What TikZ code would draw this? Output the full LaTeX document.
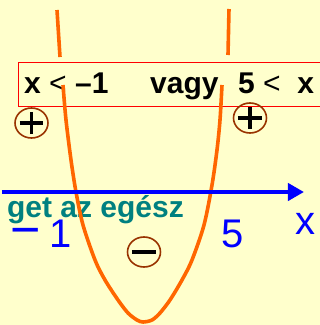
\documentclass[tikz,border=0pt]{standalone}
\usepackage{fontspec}
\setmainfont{Liberation Sans}
\usetikzlibrary{arrows.meta,shapes.geometric}
\definecolor{paper}{HTML}{FFFFCC}
\definecolor{curveorange}{HTML}{FF6600}
\definecolor{signring}{HTML}{993300}
\definecolor{axisblue}{HTML}{0000FF}
\definecolor{noteteal}{HTML}{008080}

\begin{document}
\begin{tikzpicture}[x=1pt, y=-1pt,
  curveline/.style={draw=curveorange, line width=3.6pt},
  condtext/.style={anchor=base west, inner sep=0pt, font=\fontsize{30}{30}\selectfont\bfseries},
  axislabel/.style={anchor=base west, inner sep=0pt, text=axisblue, font=\fontsize{40}{40}\selectfont},
  signmark/.style={ellipse, draw=signring, line width=1.6pt, minimum width=33pt, minimum height=30pt, inner sep=0pt},
  signstroke/.style={line width=3.6pt, black}]
\fill[paper] (0,0) rectangle (320,325);
\useasboundingbox (0,0) rectangle (320,325);

% condition box
\node[draw=red, line width=1.2pt, anchor=north west, minimum width=330pt, minimum height=44pt, inner sep=0pt] (cond) at (18,62) {};
\node[condtext] (left) at (24,93) {x {\mdseries<} –1};
\node[condtext] (vagy) at (150,93) {vagy};
\node[condtext] (right) at (238,93) {5 {\mdseries<}\ \ x};

% teal note behind the axis labels
\node[anchor=base east, inner sep=0pt, text=noteteal, font=\fontsize{30}{30}\selectfont\bfseries] (note) at (184,217) {get az egész};

% axis labels
\node[axislabel] (mone) at (10.5,247) {{\fontsize{52}{52}\selectfont −}\hspace{8pt}1};
\node[axislabel] (five) at (221,247) {5};
\node[axislabel] (xlab) at (295,234) {x};

% parabola
\draw[curveline] (57,10) -- (60,57);
\draw[curveline] (229,9) -- (228,55);
\draw[curveline] plot[smooth] coordinates {(63,85) (66,120) (71,160) (76,192) (83,225) (95,260) (105,280) (118,300) (128,313) (137,320) (143,322) (152,320) (160,313) (170,300) (182,280) (192,260) (204,225) (212,185) (217,150) (220,120) (222,85)};

% number line
\coordinate (axl) at (2,192);
\coordinate (axr) at (304,192);
\draw[axisblue, line width=4pt, -{Triangle[length=16pt,width=17pt]}] (axl) -- (axr);

% signs
\node[signmark] (pl) at (31.5,123) {};
\node[signmark] (pr) at (250,118) {};
\node[signmark] (mi) at (144,252) {};
\foreach \n in {pl,pr} {
  \draw[signstroke] ([xshift=-12pt]\n.center) -- ([xshift=12pt]\n.center)
    ([yshift=-11pt]\n.center) -- ([yshift=11pt]\n.center);
}
\draw[signstroke] ([xshift=-12pt]mi.center) -- ([xshift=12pt]mi.center);
\end{tikzpicture}
\end{document}
